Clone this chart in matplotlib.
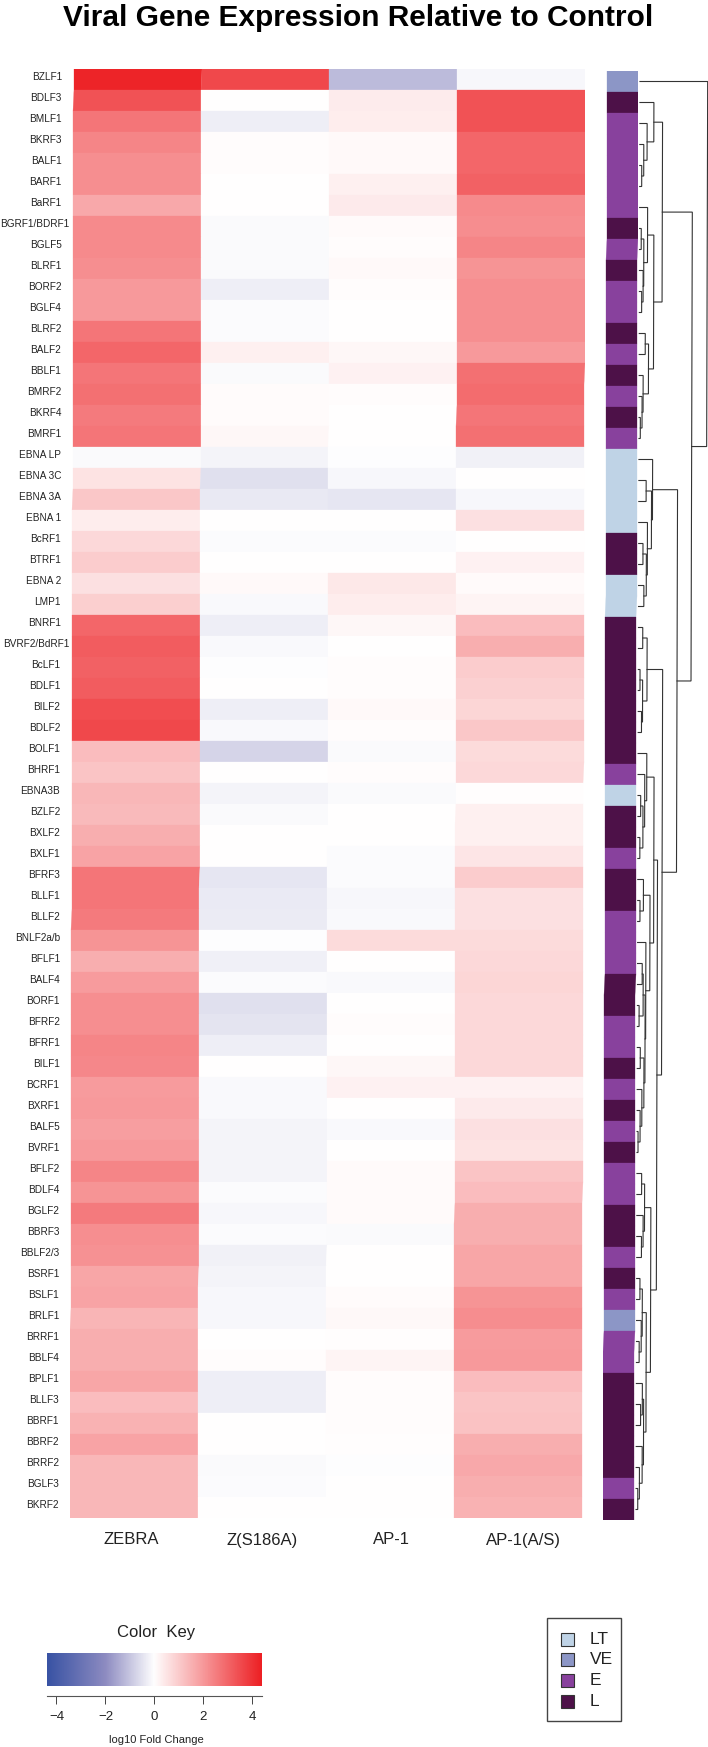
import matplotlib
matplotlib.use("Agg")
import matplotlib.pyplot as plt
import numpy as np
from matplotlib.colors import LinearSegmentedColormap, ListedColormap, Normalize
from matplotlib.patches import Rectangle

plt.rcParams['font.family'] = ['Liberation Sans', 'DejaVu Sans']

FIG_W, FIG_H = 708, 1747

genes = ["BZLF1", "BDLF3", "BMLF1", "BKRF3", "BALF1", "BARF1", "BaRF1", "BGRF1/BDRF1", "BGLF5", "BLRF1",
         "BORF2", "BGLF4", "BLRF2", "BALF2", "BBLF1", "BMRF2", "BKRF4", "BMRF1", "EBNA LP", "EBNA 3C",
         "EBNA 3A", "EBNA 1", "BcRF1", "BTRF1", "EBNA 2", "LMP1", "BNRF1", "BVRF2/BdRF1", "BcLF1", "BDLF1",
         "BILF2", "BDLF2", "BOLF1", "BHRF1", "EBNA3B", "BZLF2", "BXLF2", "BXLF1", "BFRF3", "BLLF1",
         "BLLF2", "BNLF2a/b", "BFLF1", "BALF4", "BORF1", "BFRF2", "BFRF1", "BILF1", "BCRF1", "BXRF1",
         "BALF5", "BVRF1", "BFLF2", "BDLF4", "BGLF2", "BBRF3", "BBLF2/3", "BSRF1", "BSLF1", "BRLF1",
         "BRRF1", "BBLF4", "BPLF1", "BLLF3", "BBRF1", "BBRF2", "BRRF2", "BGLF3", "BKRF2"]

conditions = ["ZEBRA", "Z(S186A)", "AP-1", "AP-1(A/S)"]

zebra = [4.3, 3.4, 2.7, 2.4, 2.2, 2.2, 1.7, 2.3, 2.3, 2.2,
         2.0, 2.0, 2.7, 3.0, 2.7, 2.8, 2.6, 2.7, -0.1, 0.55,
         1.1, 0.35, 0.75, 1.0, 0.6, 0.95, 3.0, 3.2, 3.1, 3.2,
         3.5, 3.6, 1.3, 1.15, 1.4, 1.35, 1.6, 1.8, 2.7, 2.7,
         2.6, 2.1, 1.6, 1.95, 2.2, 2.2, 2.4, 2.35, 1.95, 2.0,
         1.9, 2.0, 2.4, 2.1, 2.6, 2.2, 2.15, 1.75, 1.8, 1.45,
         1.6, 1.6, 1.75, 1.3, 1.5, 1.8, 1.4, 1.4, 1.4]
z_s186a = [3.6, 0.0, -0.3, 0.05, 0.05, 0.0, 0.0, -0.1, -0.1, -0.1,
           -0.3, -0.08, -0.08, 0.3, -0.1, 0.07, 0.07, 0.15, -0.2, -0.55,
           -0.4, 0.0, -0.08, 0.0, 0.1, -0.12, -0.3, -0.12, -0.05, 0.02,
           -0.3, -0.12, -0.75, 0.0, -0.2, -0.1, 0.0, 0.0, -0.45, -0.38,
           -0.35, -0.05, -0.28, -0.08, -0.55, -0.48, -0.3, 0.0, -0.12, -0.12,
           -0.2, -0.2, -0.2, -0.08, -0.15, -0.08, -0.25, -0.2, -0.15, -0.15,
           0.0, 0.05, -0.3, -0.3, 0.0, 0.0, -0.1, -0.08, 0.0]
ap1 = [-1.18, 0.37, 0.35, 0.1, 0.1, 0.3, 0.4, 0.08, 0.05, 0.1,
       0.05, 0.0, 0.0, 0.15, 0.25, 0.05, 0.0, 0.0, -0.05, -0.15,
       -0.45, 0.0, -0.08, 0.0, 0.45, 0.35, 0.15, 0.0, 0.06, 0.06,
       0.1, 0.06, -0.1, 0.05, -0.1, 0.0, 0.0, -0.08, -0.08, -0.15,
       -0.12, 0.7, 0.0, -0.12, 0.0, 0.06, 0.0, 0.15, 0.25, 0.0,
       -0.12, 0.0, 0.08, 0.08, 0.08, -0.1, 0.0, 0.0, 0.07, 0.12,
       0.04, 0.2, 0.06, 0.06, 0.05, 0.04, -0.05, 0.0, 0.0]
ap1_as = [-0.15, 3.4, 3.4, 3.0, 3.0, 3.1, 2.3, 2.25, 2.4, 2.1,
          2.2, 2.2, 2.2, 2.0, 2.8, 2.9, 2.7, 2.8, -0.25, 0.0,
          -0.15, 0.6, 0.0, 0.25, 0.08, 0.2, 1.3, 1.6, 1.0, 0.9,
          0.8, 1.1, 0.7, 0.75, 0.03, 0.3, 0.3, 0.5, 1.0, 0.6,
          0.6, 0.7, 0.75, 0.8, 0.75, 0.75, 0.75, 0.75, 0.25, 0.4,
          0.6, 0.55, 1.15, 1.3, 1.6, 1.6, 1.75, 1.75, 2.1, 2.25,
          1.95, 2.0, 1.3, 1.15, 1.2, 1.6, 1.7, 1.6, 1.5]

gene_class = ["VE", "L", "E", "E", "E", "E", "E", "L", "E", "L",
              "E", "E", "L", "E", "L", "E", "L", "E", "LT", "LT",
              "LT", "LT", "L", "L", "LT", "LT", "L", "L", "L", "L",
              "L", "L", "L", "E", "LT", "L", "L", "E", "L", "L",
              "E", "E", "E", "L", "L", "E", "E", "L", "E", "L",
              "E", "L", "E", "E", "L", "L", "E", "L", "E", "VE",
              "E", "E", "L", "L", "L", "L", "L", "E", "L"]
class_names = ["LT", "VE", "E", "L"]
class_colors = ["#bfd3e6", "#8c96c6", "#88419d", "#4d1148"]

# dendrogram: (merge height, left, right), ints are rows
t1 = (14, 1, (7.3, 2, (4, 3, (2, 4, 5))))
t2a = (8, 6, (4.3, (1.7, 7, 8), (3.7, 9, (2.3, 10, 11))))
t2b = (9.3, (6, 12, 13), (4, 14, (3, 15, (1.3, 16, 17))))
clA = (22.7, t1, (14.3, t2a, t2b))
clB = (13.7, 18, (12.7, (7.3, 19, 20), (8.7, 21, (7.7, (4.3, 22, 23), (5.3, 24, 25)))))
clC = (8.7, (4.3, 26, 27), (4.3, (1.7, 28, 29), (3.3, 30, 31)))
clD = (8.7, 32, (6.7, 33, (5, (2.7, 34, 35), (2, 36, 37))))
clE1 = (5.7, 38, (2.3, 39, 40))
clE2 = (8.3, 41, (7.7, (5.7, (4.7, 42, 43), (1.7, 44, 45)), (6.7, (3, 46, 47), (4.7, 48, (3, 49, (1, 50, 51))))))
clE = (12.3, clE1, clE2)
clG1 = (7.7, (4.7, 52, 53), (6.3, 54, (4.7, 55, 56)))
clG2a = (5.7, (3.3, 57, 58), (4.7, 59, (2.7, 60, 61)))
clG2b = (7.3, (6, 62, (4.3, 63, 64)), (6, 65, (3.3, 66, (1.7, 67, 68))))
clG = (14, clG1, (9.7, clG2a, clG2b))
clX = (19.7, (16, clD, clE), clG)
clY = (38.7, clB, (24.3, clC, clX))
tree = (67.7, 0, (52.7, clA, clY))

key_ticks = [-4, -2, 0, 2, 4]
key_min, key_max = -4.37, 4.39


def axPx(fig, left, top, right, bottom):
    return fig.add_axes([left / FIG_W, 1 - bottom / FIG_H, (right - left) / FIG_W, (bottom - top) / FIG_H])


def textPx(fig, x, y, s, **kw):
    kw.setdefault('ha', 'center')
    kw.setdefault('va', 'center')
    fig.text(x / FIG_W, 1 - y / FIG_H, s, **kw)


def drawTree(ax, node, shear):
    # returns the row position of the node, draws its bracket
    if isinstance(node, int):
        return node + 0.5, 0
    h, a, b = node
    ya, ha = drawTree(ax, a, shear)
    yb, hb = drawTree(ax, b, shear)
    xs = np.array([ha, h, h, hb], dtype=float)
    ys = np.array([ya, ya, yb, yb])
    ax.plot(xs + shear * ys, ys, color='#333333', lw=0.8, solid_joinstyle='miter')
    return (ya + yb) / 2, h


n_rows = len(genes)
data = np.array([zebra, z_s186a, ap1, ap1_as]).T

cmap = LinearSegmentedColormap.from_list(
    "bwr_key", [(0, "#3953a4"), (0.27, "#8d8bc1"), (0.4977, "#ffffff"), (1, "#ed2024")], N=512)
norm = Normalize(key_min, key_max)

fig = plt.figure(figsize=(FIG_W / 100, FIG_H / 100), dpi=100)

textPx(fig, 358.5, 18, "Viral Gene Expression Relative to Control", fontsize=21.5, fontweight='bold')

# heatmap, the picture leans left a little going down
ax = axPx(fig, 70, 69, 585, 1518)
col_shear = -0.028 / n_rows
xg, yg = np.meshgrid(np.arange(5), np.arange(n_rows + 1))
ax.pcolormesh(xg + col_shear * yg, yg, data, cmap=cmap, norm=norm,
              antialiased=True, edgecolors='face', linewidth=0.2)
ax.set_xlim(-0.028, 3.998)
ax.set_ylim(n_rows, 0)
ax.axis('off')

for i, gene in enumerate(genes):
    y = 69 + 21 * (i + 0.5) - 2.5
    # the two longest names run up to the heatmap
    x = 69 if len(gene) > 10 else 62 - 0.05 * i
    textPx(fig, x, y, gene, fontsize=7.2, ha='right', color='#222222')

for name, x in zip(conditions, [131.4, 262, 391, 523]):
    textPx(fig, x, 1540, name, fontsize=12, color='#222222')

# class side bar
ax2 = axPx(fig, 603, 71, 638, 1520)
bar_shear = -4 / n_rows
codes = np.array([[class_names.index(c)] for c in gene_class])
xg, yg = np.meshgrid([0, 31], np.arange(n_rows + 1))
ax2.pcolormesh(xg + bar_shear * yg, yg, codes, cmap=ListedColormap(class_colors), vmin=-0.5, vmax=3.5,
               antialiased=True, edgecolors='face', linewidth=0.2)
ax2.set_xlim(-4, 31)
ax2.set_ylim(n_rows, 0)
ax2.axis('off')

# dendrogram, one x unit is one pixel
ax3 = axPx(fig, 632, 71, 708, 1520)
drawTree(ax3, tree, -0.058)
ax3.set_xlim(-8, 68)
ax3.set_ylim(n_rows, 0)
ax3.axis('off')

# colour key
ax4 = axPx(fig, 47.4, 1653, 262, 1686)
ax4.imshow(np.linspace(key_min, key_max, 128)[None, :], cmap=cmap, norm=norm, aspect='auto',
           extent=[key_min, key_max, 0, 1])
ax4.set_xticks(key_ticks)
ax4.set_yticks([])
for s in ['top', 'left', 'right']:
    ax4.spines[s].set_visible(False)
ax4.spines['bottom'].set_position(('outward', 7.2))
ax4.spines['bottom'].set_color('#555555')
ax4.tick_params(axis='x', length=5.8, width=0.7, color='#444444', labelsize=9.5, pad=5, labelcolor='#222222')
textPx(fig, 156, 1632, "Color  Key", fontsize=12, color='#222222')
textPx(fig, 156, 1740, "log10 Fold Change", fontsize=8, color='#222222')

# class legend
ax5 = axPx(fig, 0, 0, FIG_W, FIG_H)
ax5.set_xlim(0, FIG_W)
ax5.set_ylim(FIG_H, 0)
ax5.axis('off')
ax5.patch.set_alpha(0)
ax5.add_patch(Rectangle((547, 1618), 74, 103, fill=False, ec='#444444', lw=1))
for i, (name, color) in enumerate(zip(class_names, class_colors)):
    yc = 1639 + 20.7 * i
    ax5.add_patch(Rectangle((561, yc - 6.5), 13, 13, fc=color, ec='#333333', lw=0.8))
    ax5.text(590, yc, name, fontsize=12.5, va='center', ha='left', color='#222222')

plt.savefig("out.png", dpi=100)
